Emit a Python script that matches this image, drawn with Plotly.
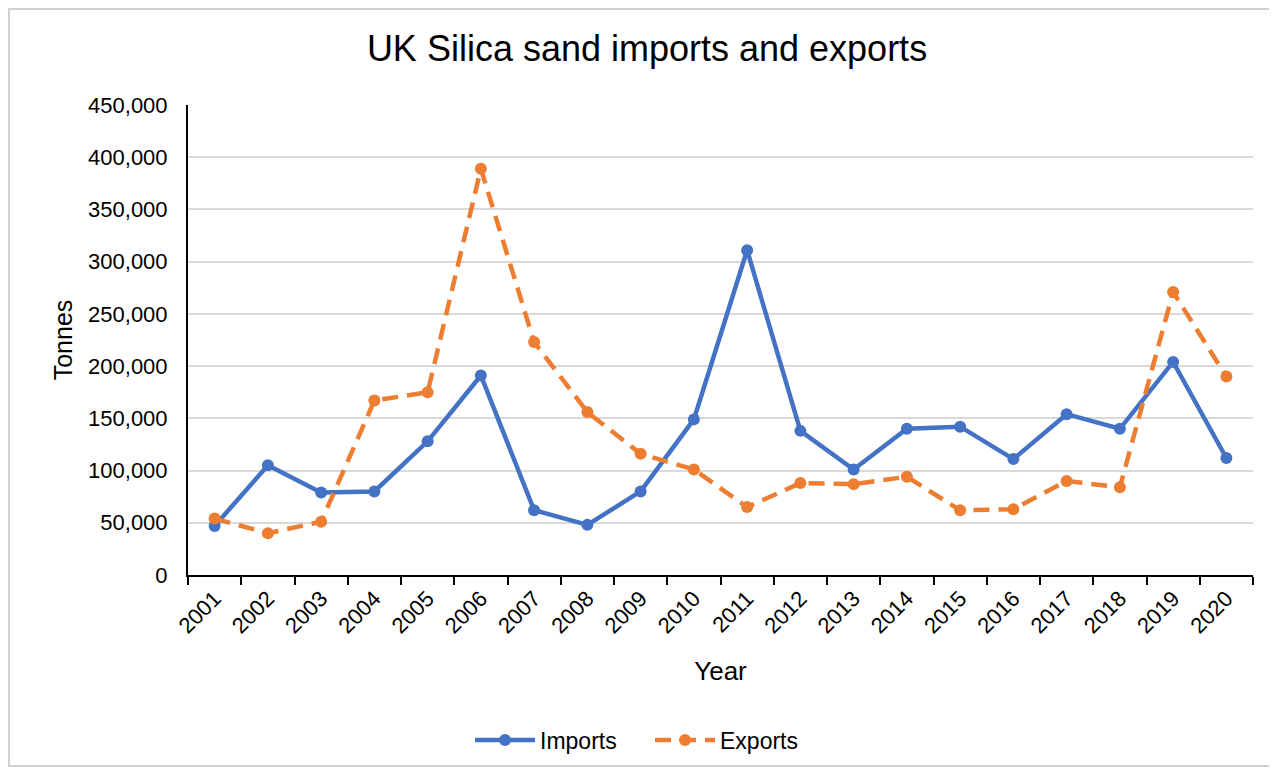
import plotly.graph_objects as go

years = [str(y) for y in range(2001, 2021)]
imports = [47000, 105000, 79000, 80000, 128000, 191000, 62000, 48000, 80000, 149000,
           311000, 138000, 101000, 140000, 142000, 111000, 154000, 140000, 204000, 112000]
exports = [54000, 40000, 51000, 167000, 175000, 389000, 223000, 156000, 116000, 101000,
           65000, 88000, 87000, 94000, 62000, 63000, 90000, 84000, 271000, 190000]
y_ticks = list(range(0, 450001, 50000))

BLUE = "#4472C4"
ORANGE = "#ED7D31"
FONT = "Liberation Sans, Arial, sans-serif"

fig = go.Figure()
fig.add_trace(go.Scatter(x=years, y=imports, name="Imports", mode="lines+markers",
                         line=dict(color=BLUE, width=4.5),
                         marker=dict(symbol="circle", size=12, color=BLUE)))
fig.add_trace(go.Scatter(x=years, y=exports, name="Exports", mode="lines+markers",
                         line=dict(color=ORANGE, width=4.5, dash="16px,9px"),
                         marker=dict(symbol="circle", size=12, color=ORANGE)))

# The page body adds an 8px offset, so the figure is sized/positioned accordingly
OFF = 8
W, H = 1277 - OFF, 769 - OFF
L, T = 188 - OFF, 105 - OFF
R = W - (1253 - OFF)
B = H - (575 - OFF)
pw, ph = W - L - R, H - T - B

fig.update_layout(
    width=W, height=H,
    margin=dict(l=L, r=R, t=T, b=B, autoexpand=False),
    paper_bgcolor="white", plot_bgcolor="white",
    font=dict(family=FONT, size=22, color="#000000"),
    title=dict(text="UK Silica sand imports and exports", xref="container", yref="container",
               x=(647 - OFF) / W, y=1 - (48 - OFF) / H, xanchor="center", yanchor="middle",
               font=dict(size=36, color="#000000", family=FONT)),
    showlegend=True,
    legend=dict(orientation="h", xref="container", yref="container",
                x=(650 - OFF) / W, y=1 - (740 - OFF) / H, xanchor="center", yanchor="middle",
                font=dict(size=23, color="#000000"), itemwidth=60, entrywidth=105,
                traceorder="normal"),
    xaxis=dict(type="category", range=[-0.5, len(years) - 0.5], autorange=False,
               showline=True, linecolor="#000000", linewidth=2,
               ticks="outside", tickson="boundaries", ticklen=8, tickwidth=2, tickcolor="#000000",
               tickangle=-45, showgrid=False,
               tickfont=dict(size=22, color="#000000"),
               title=dict(text="Year", font=dict(size=26, color="#000000"), standoff=24)),
    yaxis=dict(range=[0, 450000], tickvals=y_ticks, tickformat=",d",
               showline=True, linecolor="#000000", linewidth=2,
               showgrid=True, gridcolor="#D9D9D9", gridwidth=1.5, zeroline=False,
               ticks="", ticklabelstandoff=14,
               tickfont=dict(size=22, color="#000000"),
               title=dict(text="Tonnes", font=dict(size=25, color="#000000"), standoff=8)),
    shapes=[dict(type="rect", xref="paper", yref="paper",
                 x0=(1 - L) / pw, x1=(1271 - OFF - L) / pw,
                 y0=(H - B - (766 - OFF)) / ph, y1=(H - B - 1) / ph,
                 line=dict(color="#D0D0D0", width=2), fillcolor="rgba(0,0,0,0)", layer="below")],
)

fig.write_html("out.html")
